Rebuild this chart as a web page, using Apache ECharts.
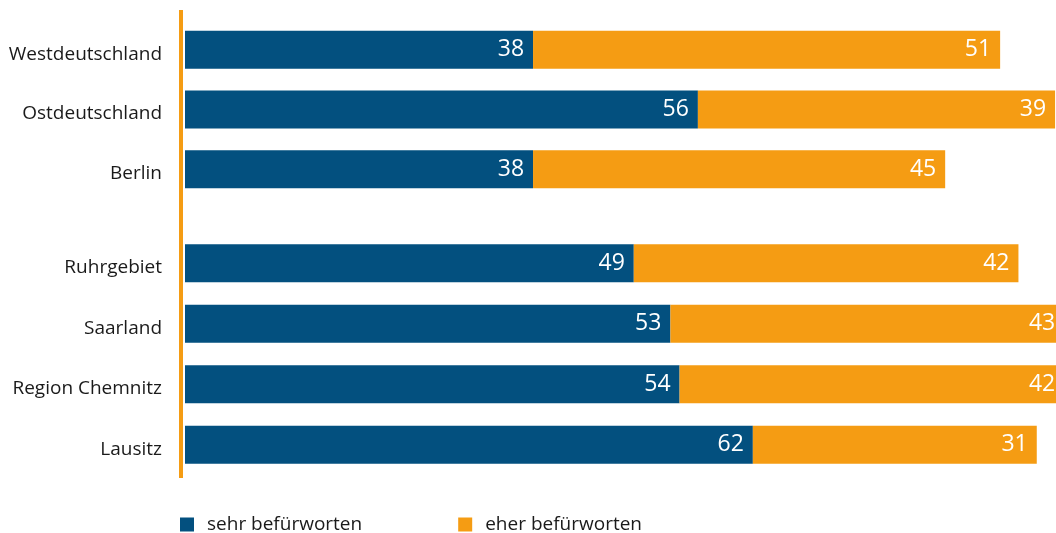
<!DOCTYPE html>
<html lang="de">
<head>
  <meta charset="UTF-8">
  <title>Befürwortung nach Region</title>
  <script src="https://cdn.jsdelivr.net/npm/echarts@6.0.0/dist/echarts.min.js"></script>
  <style>
    html, body { margin: 0; padding: 0; background: #fff; }
    #chart { width: 1056px; height: 533px; }
  </style>
</head>
<body>
  <div id="chart"></div>
  <script>
    // Gruppe 1: Großregionen
    const regionenA = ['Westdeutschland', 'Ostdeutschland', 'Berlin'];
    const sehrA = [38, 56, 38];
    const eherA = [51, 39, 45];
    // Gruppe 2: Strukturwandelregionen
    const regionenB = ['Ruhrgebiet', 'Saarland', 'Region Chemnitz', 'Lausitz'];
    const sehrB = [49, 53, 54, 62];
    const eherB = [42, 43, 42, 31];

    const BLAU = '#03507f';
    const ORANGE = '#f59c13';
    const FONT = '"Open Sans", "Noto Sans", sans-serif';

    const chart = echarts.init(document.getElementById('chart'));

    const wertLabel = {
      show: true, position: 'insideRight', distance: 9,
      color: '#fff', fontSize: 23, fontFamily: FONT,
      padding: [3, 0, 0, 0]
    };
    const yAchse = (data, idx) => ({
      type: 'category', gridIndex: idx, data: data, inverse: true,
      axisLine: { show: false }, axisTick: { show: false },
      axisLabel: {
        margin: 23,
        formatter: '{r|{value}}',
        rich: {
          // etwas tiefer als die Balkenmitte, wie im Original
          r: { color: '#1a1a1a', fontSize: 19, fontFamily: FONT, padding: [9, 0, 0, 0] }
        }
      }
    });
    // 871 px Breite bis zum Rand, ca. 9,16 px pro Prozentpunkt
    const xAchse = idx => ({
      type: 'value', gridIndex: idx, min: 0, max: 95.1, show: false
    });
    const balken = (name, data, idx, color) => ({
      name: name, type: 'bar', stack: 'g' + idx,
      xAxisIndex: idx, yAxisIndex: idx,
      data: data, barWidth: 38, clip: false,
      itemStyle: { color: color },
      label: wertLabel
    });

    chart.setOption({
      animation: false,
      textStyle: { fontFamily: FONT },
      grid: [
        { left: 185, top: 20, right: 0, height: 179 },
        { left: 185, top: 233, right: 0, height: 242 }
      ],
      xAxis: [xAchse(0), xAchse(1)],
      yAxis: [yAchse(regionenA, 0), yAchse(regionenB, 1)],
      legend: {
        left: 180, top: 515, padding: 0,
        itemWidth: 14, itemHeight: 14, itemGap: 96,
        icon: 'rect',
        data: ['sehr befürworten', 'eher befürworten'],
        textStyle: { color: '#1a1a1a', fontSize: 19, fontFamily: FONT, padding: [0, 0, 0, 8] }
      },
      graphic: [{
        type: 'line',
        shape: { x1: 181, y1: 10, x2: 181, y2: 478 },
        style: { stroke: ORANGE, lineWidth: 4 }
      }],
      series: [
        balken('sehr befürworten', sehrA, 0, BLAU),
        balken('eher befürworten', eherA, 0, ORANGE),
        balken('sehr befürworten', sehrB, 1, BLAU),
        balken('eher befürworten', eherB, 1, ORANGE)
      ]
    });
  </script>
</body>
</html>
